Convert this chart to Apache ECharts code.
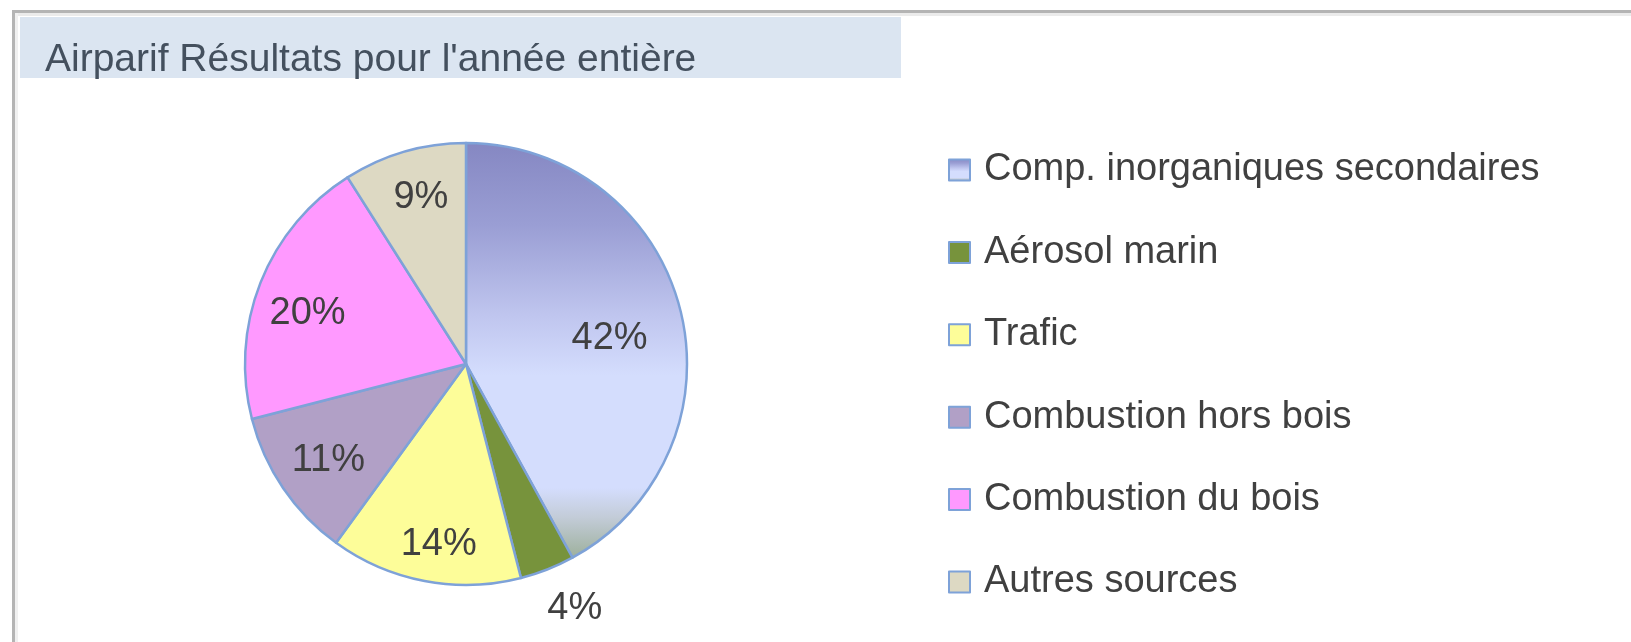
<!DOCTYPE html>
<html>
<head>
<meta charset="utf-8">
<script src="https://cdn.jsdelivr.net/npm/echarts@6/dist/echarts.min.js"></script>
<style>
  html, body { margin: 0; padding: 0; background: #ffffff; }
  #chart { width: 1631px; height: 642px; }
</style>
</head>
<body>
<div id="chart"></div>
<script>
// ---- data ----
const titleText = "Airparif Résultats pour l'année entière";
const categories = [
  'Comp. inorganiques secondaires',
  'Aérosol marin',
  'Trafic',
  'Combustion hors bois',
  'Combustion du bois',
  'Autres sources'
];
const shares = [42, 4, 14, 11, 20, 9];

// ---- styles ----
const FONT = '"Liberation Sans", Arial, sans-serif';
const TEXT_COLOR = '#404040';
const BORDER = '#7ea2d8';
const firstGradient = {
  type: 'linear', x: 0, y: 0, x2: 0, y2: 1,
  colorStops: [
    { offset: 0.00, color: '#8587c2' },
    { offset: 0.20, color: '#9a9ed4' },
    { offset: 0.42, color: '#c0c6ef' },
    { offset: 0.56, color: '#d4ddfd' },
    { offset: 0.83, color: '#d4ddfd' },
    { offset: 0.90, color: '#c3ccd8' },
    { offset: 1.00, color: '#9caf9a' }
  ]
};
const sliceColors = [firstGradient, '#77933c', '#fdfd99', '#b1a0c6', '#ff99ff', '#ddd9c3'];

const CENTER = [466, 364];
const R = 221;

// label placement style: which helper ring shows each label, plus small nudges [dx, dy]
const labelRing = ['mid', 'outer', 'ring', 'ring', 'ring', 'ring'];
const labelNudge = [[7, 10], [12, 0], [5, 11], [5, 0], [2, 13], [3, -1]];

function labelSeries(ring, radius) {
  return {
    type: 'pie',
    center: CENTER,
    radius: radius,
    startAngle: 90,
    clockwise: true,
    silent: true,
    legendHoverLink: false,
    avoidLabelOverlap: false,
    z: 5,
    emphasis: { disabled: true },
    itemStyle: { color: 'rgba(0,0,0,0)', borderWidth: 0 },
    labelLine: { show: false },
    label: {
      position: 'inside',
      formatter: '{c}%',
      color: TEXT_COLOR,
      fontFamily: FONT,
      fontSize: 38
    },
    labelLayout: function (p) {
      const n = labelNudge[p.dataIndex];
      return { dx: n[0], dy: n[1] };
    },
    data: categories.map((name, i) => ({
      name: name,
      value: shares[i],
      label: { show: labelRing[i] === ring }
    }))
  };
}

const chart = echarts.init(document.getElementById('chart'), null, { renderer: 'canvas' });

chart.setOption({
  animation: false,
  backgroundColor: '#ffffff',
  graphic: [
    // outer frame
    { type: 'rect', shape: { x: 12, y: 10, width: 1640, height: 3 }, style: { fill: '#b4b4b4' }, silent: true },
    { type: 'rect', shape: { x: 15, y: 13, width: 1640, height: 3 }, style: { fill: '#ebebeb' }, silent: true },
    { type: 'rect', shape: { x: 12, y: 10, width: 3, height: 640 }, style: { fill: '#b4b4b4' }, silent: true },
    { type: 'rect', shape: { x: 15, y: 13, width: 3, height: 640 }, style: { fill: '#f0f0f0' }, silent: true },
    // title band
    { type: 'rect', shape: { x: 20, y: 17, width: 881, height: 61 }, style: { fill: '#dbe5f1' }, silent: true, z: -1 }
  ],
  title: {
    text: titleText,
    left: 45,
    top: 41,
    padding: 0,
    textStyle: {
      fontFamily: FONT,
      fontSize: 39,
      fontWeight: 'normal',
      color: '#44505e'
    }
  },
  legend: {
    orient: 'vertical',
    left: 948,
    top: 150,
    padding: 0,
    itemWidth: 21,
    itemHeight: 21,
    itemGap: 42.4,
    icon: 'rect',
    selectedMode: false,
    itemStyle: { borderColor: BORDER, borderWidth: 2 },
    textStyle: {
      fontFamily: FONT,
      fontSize: 38,
      lineHeight: 40,
      color: TEXT_COLOR,
      padding: [0, 0, 0, 9]
    },
    data: categories
  },
  series: [
    {
      type: 'pie',
      center: CENTER,
      radius: [0, R],
      startAngle: 90,
      clockwise: true,
      avoidLabelOverlap: false,
      z: 2,
      itemStyle: { borderColor: BORDER, borderWidth: 2.5 },
      label: { show: false },
      labelLine: { show: false },
      emphasis: { scale: false },
      data: categories.map((name, i) => ({
        name: name,
        value: shares[i],
        itemStyle: { color: sliceColors[i] }
      }))
    },
    labelSeries('ring', [118, R]),
    labelSeries('mid', [55, R]),
    labelSeries('outer', [258, 262])
  ]
});
</script>
</body>
</html>
